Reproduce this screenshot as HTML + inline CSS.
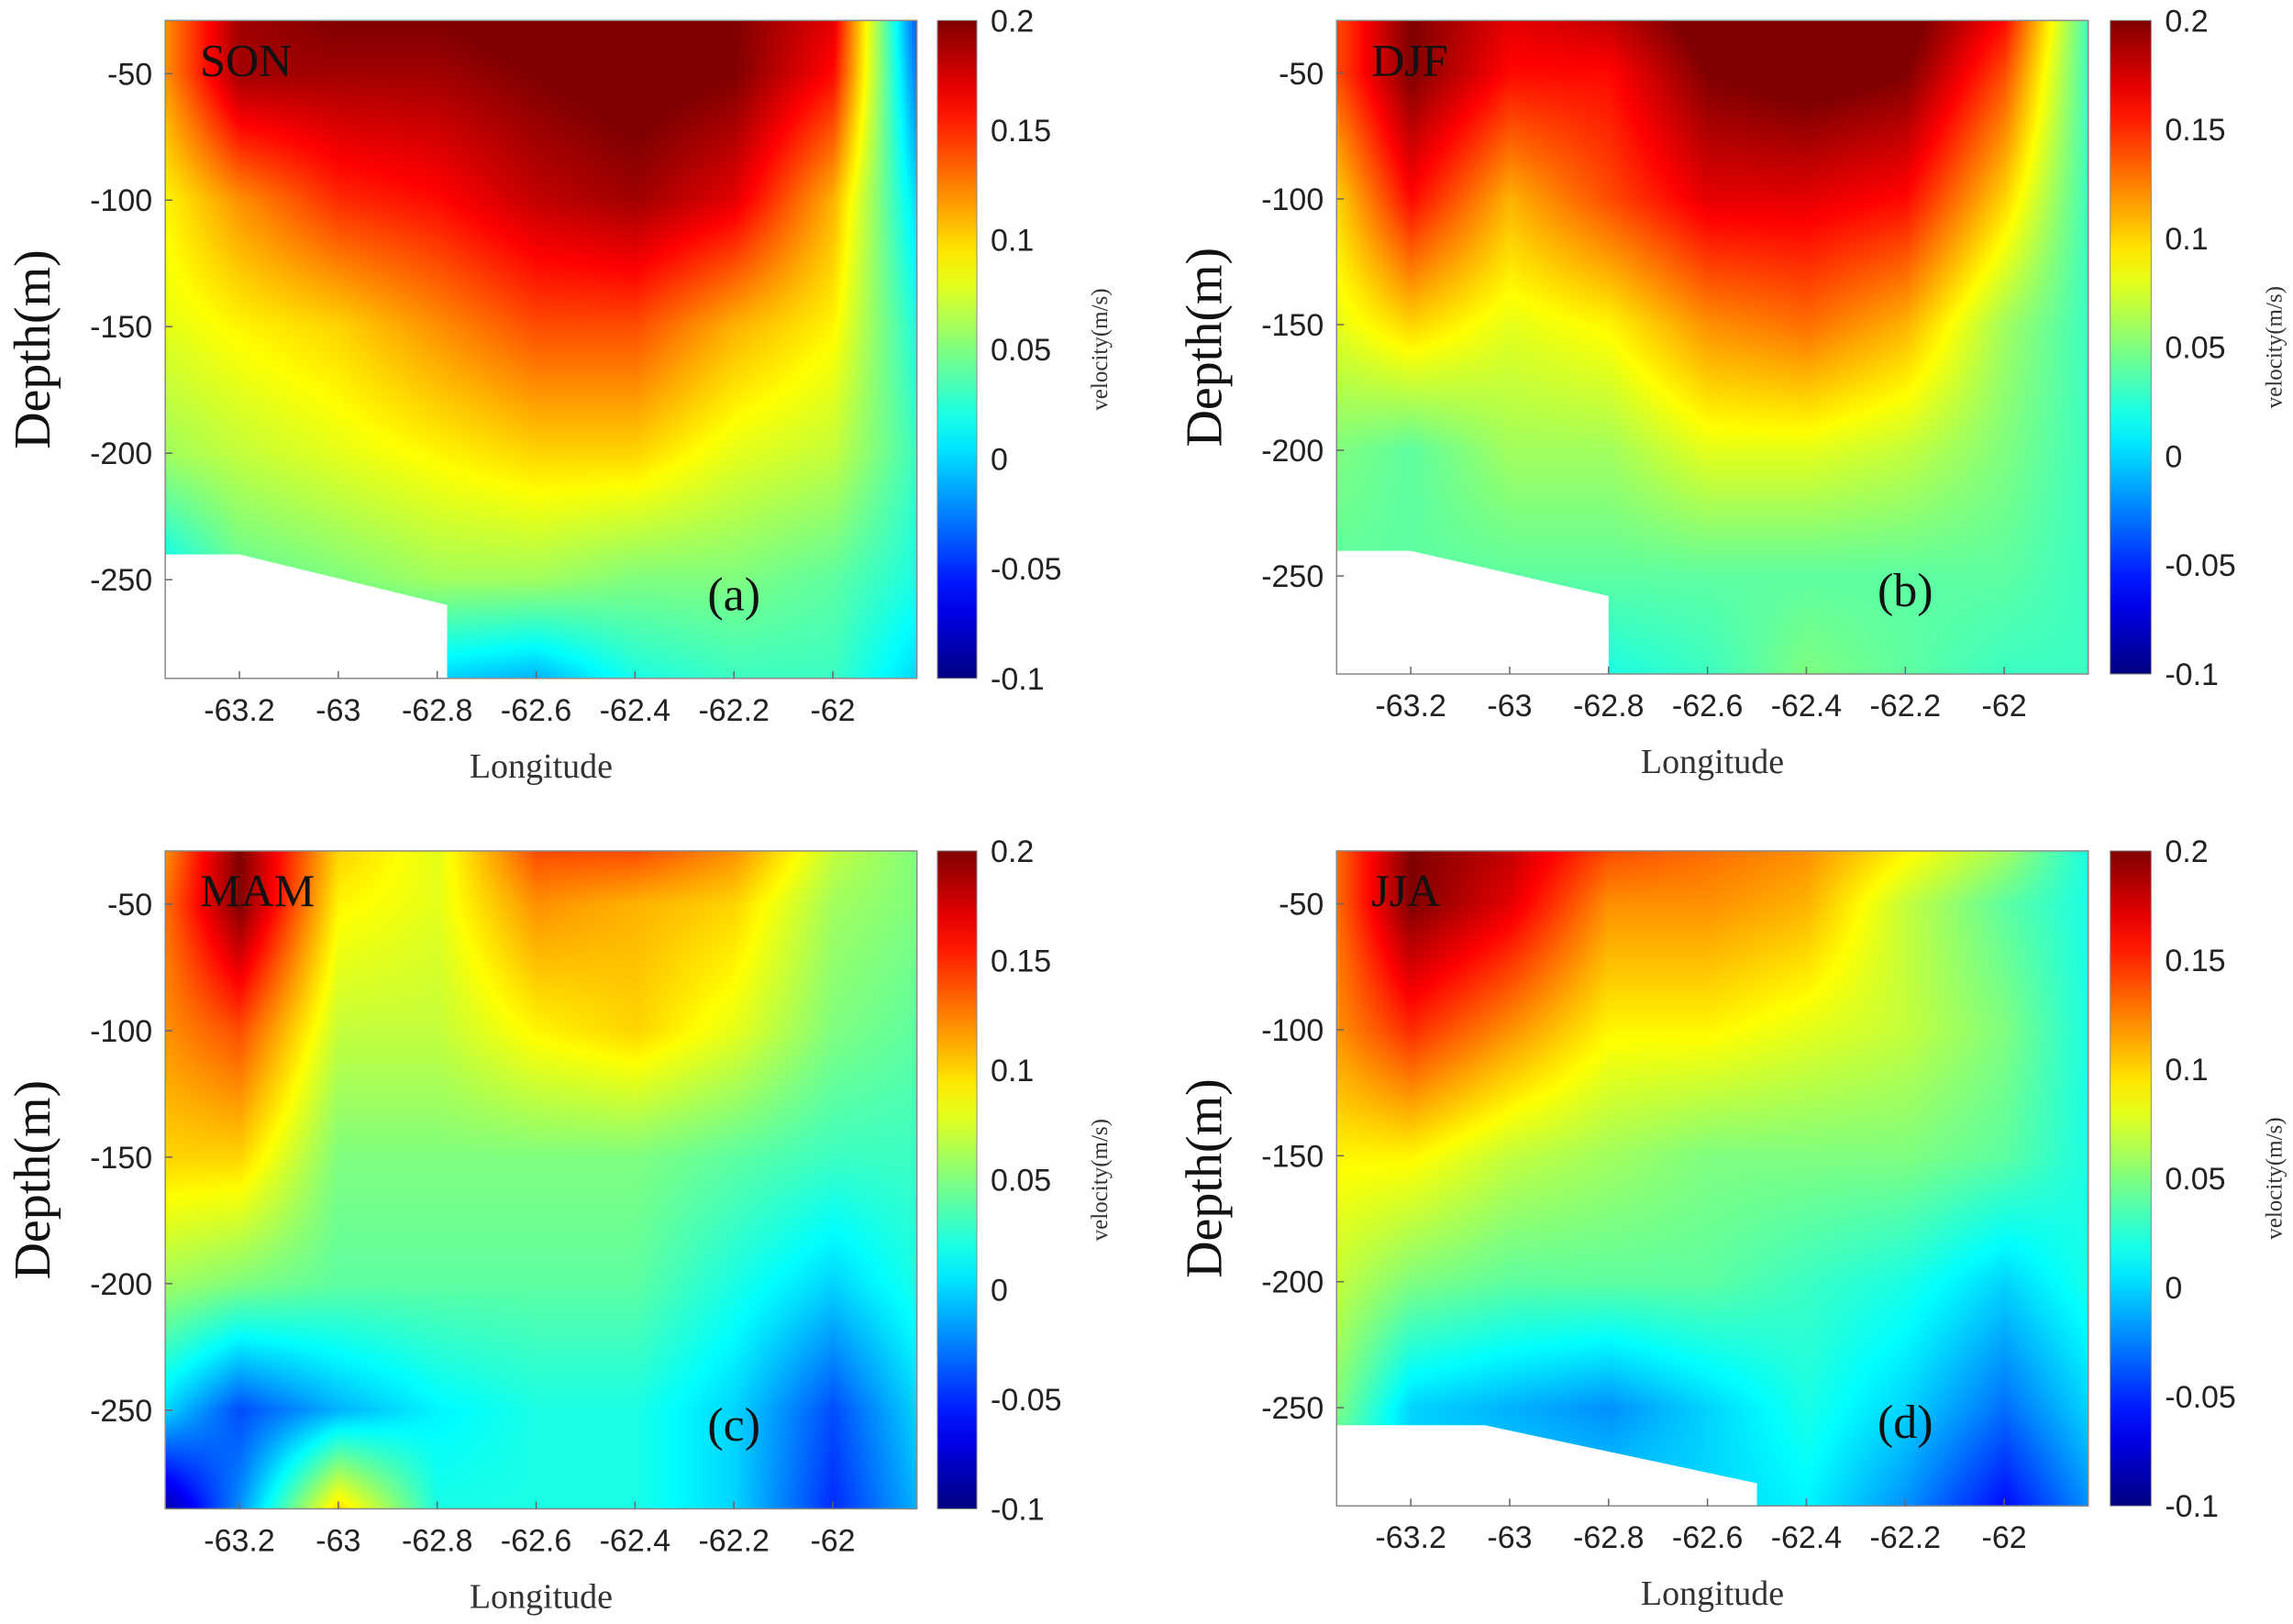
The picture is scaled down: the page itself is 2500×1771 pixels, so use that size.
<!DOCTYPE html>
<html><head><meta charset="utf-8"><style>
body{margin:0;background:#fff;}
#root{position:relative;width:2500px;height:1771px;overflow:hidden;background:#fff;}
canvas{position:absolute;}
svg{position:absolute;left:0;top:0;}
</style></head><body>
<div id="root"></div>
<script>
const S = 2500/1568;
const lons = [-63.35,-63.2,-63,-62.8,-62.6,-62.4,-62.2,-62,-61.83];
const depths = [-29,-50,-100,-150,-200,-250,-289];
const xTicks = [-63.2,-63,-62.8,-62.6,-62.4,-62.2,-62];
const xTickLabels = ['-63.2','-63','-62.8','-62.6','-62.4','-62.2','-62'];
const yTicks = [-50,-100,-150,-200,-250];
const cbTicks = [0.2,0.15,0.1,0.05,0,-0.05,-0.1];
const cbLabels = ['0.2','0.15','0.1','0.05','0','-0.05','-0.1'];
const vmin=-0.1, vmax=0.2;
const sonValues = [
[0.12,0.19,0.2,0.2,0.21,0.22,0.2,0.17,-0.04],
[0.12,0.19,0.19,0.19,0.2,0.21,0.2,0.16,-0.03],
[0.09,0.12,0.15,0.16,0.18,0.19,0.17,0.11,0.0],
[0.08,0.09,0.1,0.12,0.14,0.14,0.11,0.09,0.02],
[0.06,0.07,0.08,0.09,0.1,0.1,0.08,0.07,0.03],
[0.01,0.04,0.05,0.06,0.06,0.05,0.05,0.04,0.02],
[0.0,0.03,0.03,0.0,-0.01,0.02,0.03,0.03,0.0]];
const djfValues = [
[0.14,0.2,0.17,0.18,0.21,0.22,0.21,0.16,0.03],
[0.14,0.2,0.16,0.16,0.2,0.21,0.2,0.14,0.03],
[0.1,0.16,0.11,0.14,0.17,0.17,0.16,0.1,0.03],
[0.08,0.1,0.08,0.09,0.12,0.13,0.11,0.06,0.03],
[0.05,0.04,0.06,0.06,0.08,0.08,0.07,0.05,0.03],
[0.04,0.04,0.04,0.04,0.04,0.04,0.04,0.04,0.03],
[0.03,0.03,0.03,0.02,0.03,0.05,0.04,0.03,0.03]];
const mamValues = [
[0.12,0.2,0.1,0.08,0.14,0.14,0.12,0.07,0.05],
[0.13,0.2,0.09,0.08,0.12,0.11,0.1,0.06,0.05],
[0.12,0.14,0.07,0.07,0.09,0.1,0.08,0.05,0.04],
[0.1,0.1,0.05,0.05,0.05,0.05,0.04,0.03,0.03],
[0.06,0.05,0.04,0.04,0.04,0.04,0.02,0.0,0.02],
[0.0,-0.04,-0.01,0.01,0.02,0.02,0.0,-0.04,0.0],
[-0.09,-0.02,0.1,0.02,0.02,0.02,0.0,-0.05,-0.01]];
const jjaValues = [
[0.13,0.2,0.18,0.14,0.13,0.12,0.09,0.06,0.02],
[0.13,0.2,0.17,0.12,0.12,0.11,0.07,0.04,0.02],
[0.12,0.15,0.12,0.09,0.09,0.08,0.07,0.05,0.02],
[0.09,0.09,0.07,0.06,0.05,0.05,0.05,0.04,0.02],
[0.07,0.05,0.04,0.04,0.04,0.03,0.02,0.0,0.02],
[0.05,0.0,-0.01,-0.02,0.0,0.02,0.0,-0.03,0.0],
[0.02,0.0,0.0,0.0,0.0,0.01,-0.02,-0.06,-0.02]];
const sonMask = [[-63.35,-240],[-63.2,-240],[-62.78,-260],[-62.78,-289],[-63.35,-289]];
const djfMask = [[-63.35,-240],[-63.2,-240],[-62.8,-258],[-62.8,-289],[-63.35,-289]];
const jjaMask = [[-63.35,-257],[-63.05,-257],[-62.5,-280],[-62.5,-289],[-63.35,-289]];

const panels = [
 {key:'son',title:'SON',tag:'(a)',vals:sonValues,mask:sonMask,x0:113,x1:627,y0:14,y1:464,cx0:641,cx1:668},
 {key:'djf',title:'DJF',tag:'(b)',vals:djfValues,mask:djfMask,x0:914,x1:1428,y0:14,y1:461,cx0:1443,cx1:1471},
 {key:'mam',title:'MAM',tag:'(c)',vals:mamValues,mask:null,x0:113,x1:627,y0:582,y1:1032,cx0:641,cx1:668},
 {key:'jja',title:'JJA',tag:'(d)',vals:jjaValues,mask:jjaMask,x0:914,x1:1428,y0:582,y1:1030,cx0:1443,cx1:1471}];

function jet(v){
 let t=(v-vmin)/(vmax-vmin); t=Math.max(0,Math.min(1,t));
 const f=(x)=>Math.max(0,Math.min(1,x));
 return [f(1.5-Math.abs(4*t-3)),f(1.5-Math.abs(4*t-2)),f(1.5-Math.abs(4*t-1))].map(c=>Math.round(c*255));
}
function interp(vals,lon,dep){
 let i=0; while(i<lons.length-2 && lon>lons[i+1]) i++;
 let j=0; while(j<depths.length-2 && dep<depths[j+1]) j++;
 let tx=(lon-lons[i])/(lons[i+1]-lons[i]); tx=Math.max(0,Math.min(1,tx));
 let ty=(dep-depths[j])/(depths[j+1]-depths[j]); ty=Math.max(0,Math.min(1,ty));
 const a=vals[j][i],b=vals[j][i+1],c=vals[j+1][i],d=vals[j+1][i+1];
 return a*(1-tx)*(1-ty)+b*tx*(1-ty)+c*(1-tx)*ty+d*tx*ty;
}
const root=document.getElementById('root');
const NS='http://www.w3.org/2000/svg';
const svg=document.createElementNS(NS,'svg');
svg.setAttribute('width','2500');svg.setAttribute('height','1771');
root.appendChild(svg);
function el(tag,attrs,parent,text){const e=document.createElementNS(NS,tag);for(const k in attrs)e.setAttribute(k,attrs[k]);if(text!==undefined)e.textContent=text;(parent||svg).appendChild(e);return e;}

panels.forEach(p=>{
 const X0=p.x0*S,X1=p.x1*S,Y0=p.y0*S,Y1=p.y1*S;
 const W=Math.round(X1-X0),H=Math.round(Y1-Y0);
 const xs=lon=>X0+(lon-lons[0])/(lons[lons.length-1]-lons[0])*(X1-X0);
 const ys=d=>Y0+(d-depths[0])/(depths[depths.length-1]-depths[0])*(Y1-Y0);
 const cv=document.createElement('canvas');
 
 
 cv.width=W;cv.height=H;cv.style.left=X0+'px';cv.style.top=Y0+'px';
 root.insertBefore(cv,svg);
 const ctx=cv.getContext('2d');const img=ctx.createImageData(W,H);
 for(let y=0;y<H;y++){const dep=depths[0]+(y/H)*(depths[depths.length-1]-depths[0]);
  for(let x=0;x<W;x++){const lon=lons[0]+(x/W)*(lons[lons.length-1]-lons[0]);
   const c=jet(interp(p.vals,lon,dep));const k=(y*W+x)*4;
   img.data[k]=c[0];img.data[k+1]=c[1];img.data[k+2]=c[2];img.data[k+3]=255;}}
 ctx.putImageData(img,0,0);
 const g=el('g',{});
 
 if(p.mask){const m=el('polygon',{points:p.mask.map(q=>xs(q[0])+','+ys(q[1])).join(' '),fill:'#fff'},g);
  }
 el('rect',{x:X0,y:Y0,width:X1-X0,height:Y1-Y0,fill:'none',stroke:'#888','stroke-width':1.5},g);
 xTicks.forEach((t,i)=>{const x=xs(t);
  el('line',{x1:x,y1:Y1,x2:x,y2:Y1-8,stroke:'#666','stroke-width':1.5},g);
  const tl=el('text',{x:x,y:Y1+46,'font-size':34,'text-anchor':'middle','font-family':'Liberation Sans, sans-serif',fill:'#222'},g,xTickLabels[i]);
  });
 yTicks.forEach(t=>{const y=ys(t);
  el('line',{x1:X0,y1:y,x2:X0+8,y2:y,stroke:'#666','stroke-width':1.5},g);
  const tl=el('text',{x:X0-14,y:y+12,'font-size':34,'text-anchor':'end','font-family':'Liberation Sans, sans-serif',fill:'#222'},g,String(t));
  });
 const xl=el('text',{x:(X0+X1)/2,y:Y1+108,'font-size':38,'text-anchor':'middle','font-family':'Liberation Serif, serif',fill:'#333'},g,'Longitude');
 
 const yl=el('text',{x:0,y:0,'font-size':56,'text-anchor':'middle','font-family':'Liberation Serif, serif',fill:'#111',transform:`translate(${X0-126},${(Y0+Y1)/2}) rotate(-90)`},g,'Depth(m)');
 
 const st=el('text',{x:X0+38,y:Y0+60,'font-size':50,'font-family':'Liberation Serif, serif',fill:'#111'},g,p.title);
 
 const pt=el('text',{x:xs(-62.2),y:ys(-262),'font-size':52,'text-anchor':'middle','font-family':'Liberation Serif, serif',fill:'#111'},g,p.tag);
 
 const C0=p.cx0*S,C1=p.cx1*S;
 const defs=el('defs',{},g);
 const gr=el('linearGradient',{id:'cb'+p.key,x1:0,y1:1,x2:0,y2:0},defs);
 for(let i=0;i<=20;i++){const v=vmin+(vmax-vmin)*i/20;const c=jet(v);
  el('stop',{offset:i/20,'stop-color':`rgb(${c[0]},${c[1]},${c[2]})`},gr);}
 const cb=el('rect',{x:C0,y:Y0,width:C1-C0,height:Y1-Y0,fill:`url(#cb${p.key})`,stroke:'#888','stroke-width':1},g);
 
 cbTicks.forEach((t,i)=>{const y=Y1-(t-vmin)/(vmax-vmin)*(Y1-Y0);
  const tl=el('text',{x:C1+15,y:y+12,'font-size':34,'font-family':'Liberation Sans, sans-serif',fill:'#222'},g,cbLabels[i]);
  });
 const cl=el('text',{x:0,y:0,'font-size':25,'text-anchor':'middle','font-family':'Liberation Serif, serif',fill:'#333',transform:`translate(${C1+142},${(Y0+Y1)/2}) rotate(-90)`},g,'velocity(m/s)');
 
});
</script>
</body></html>
